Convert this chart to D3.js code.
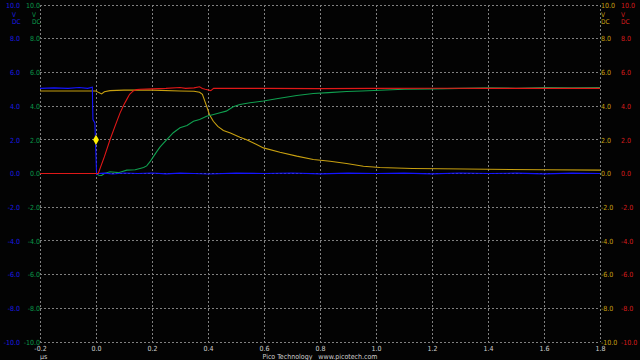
<!DOCTYPE html>
<html><head><meta charset="utf-8">
<script src="https://cdn.jsdelivr.net/npm/d3@7"></script>
<style>
html,body{margin:0;padding:0;background:#000;}
svg{display:block;}
text{font-family:"DejaVu Sans Condensed","DejaVu Sans",sans-serif;font-size:7px;}
</style></head>
<body>
<script>
// ---- data ----
const xTicks = [-0.2, 0.0, 0.2, 0.4, 0.6, 0.8, 1.0, 1.2, 1.4, 1.6, 1.8];
const yTicks = [-10, -8, -6, -4, -2, 0, 2, 4, 6, 8, 10];

const blueT = [-0.2, -0.15, -0.1, -0.06, -0.03, -0.013, -0.012, -0.011, -0.004, 0.0, 0.002, 0.006, 0.03, 0.06, 0.1, 0.15, 0.2, 0.25, 0.3, 0.35, 0.4, 0.5, 0.6, 0.7, 0.8, 0.9, 1.0, 1.1, 1.2, 1.3, 1.4, 1.5, 1.6, 1.7, 1.8];
const blueV = [5.05, 5.08, 5.05, 5.1, 5.05, 5.12, 4.0, 3.2, 3.0, 1.0, -0.05, 0.0, 0.02, -0.03, 0.03, 0.0, 0.03, -0.02, 0.02, 0.0, -0.03, 0.02, 0.0, 0.03, -0.02, 0.02, 0.0, 0.02, -0.02, 0.03, 0.0, 0.02, -0.02, 0.02, 0.0];

const redT = [-0.2, 0.0, 0.008, 0.03, 0.05, 0.07, 0.086, 0.1, 0.11, 0.12, 0.133, 0.145, 0.157, 0.2, 0.25, 0.3, 0.32, 0.35, 0.37, 0.38, 0.39, 0.41, 0.42, 0.5, 0.6, 0.8, 1.0, 1.2, 1.4, 1.6, 1.8];
const redV = [0, 0, 0, 1.0, 2.0, 2.9, 3.6, 4.1, 4.4, 4.7, 4.9, 4.98, 5.0, 5.02, 5.05, 5.1, 5.05, 5.08, 5.15, 5.05, 5.0, 4.92, 5.05, 5.05, 5.05, 5.04, 5.05, 5.06, 5.05, 5.05, 5.05];

const greenT = [-0.2, -0.1, 0.0, 0.01, 0.02, 0.03, 0.05, 0.08, 0.11, 0.14, 0.157, 0.17, 0.181, 0.193, 0.205, 0.217, 0.229, 0.252, 0.276, 0.3, 0.325, 0.348, 0.37, 0.395, 0.42, 0.443, 0.465, 0.49, 0.514, 0.55, 0.598, 0.65, 0.717, 0.776, 0.83, 0.895, 0.95, 1.014, 1.1, 1.2, 1.3, 1.4, 1.5, 1.6, 1.7, 1.8];
const greenV = [0.0, 0.0, 0.0, -0.1, -0.12, 0.0, 0.1, 0.05, 0.2, 0.22, 0.3, 0.35, 0.45, 0.7, 1.0, 1.3, 1.58, 2.0, 2.42, 2.71, 2.85, 3.1, 3.2, 3.4, 3.5, 3.6, 3.7, 3.96, 4.1, 4.2, 4.3, 4.45, 4.63, 4.75, 4.8, 4.87, 4.9, 4.94, 5.0, 5.02, 5.05, 5.08, 5.06, 5.1, 5.08, 5.1];

const yellowT = [-0.2, -0.1, 0.0, 0.01, 0.02, 0.03, 0.05, 0.1, 0.2, 0.3, 0.35, 0.37, 0.38, 0.395, 0.405, 0.419, 0.435, 0.455, 0.48, 0.514, 0.538, 0.57, 0.598, 0.657, 0.717, 0.776, 0.836, 0.895, 0.955, 1.014, 1.13, 1.23, 1.4, 1.6, 1.8];
const yellowV = [4.9, 4.9, 4.9, 4.8, 4.72, 4.85, 4.92, 4.95, 4.95, 4.9, 4.88, 4.82, 4.7, 4.0, 3.5, 3.1, 2.8, 2.55, 2.4, 2.15, 2.0, 1.75, 1.52, 1.26, 1.03, 0.83, 0.73, 0.59, 0.43, 0.36, 0.3, 0.28, 0.25, 0.22, 0.2];

const marker = {t: 0.0, v: 2.0};

// ---- chart ----
const W = 640, H = 360;
const FONT = '"DejaVu Sans Condensed","DejaVu Sans",sans-serif';
const svg = d3.select("body").append("svg").attr("width", W).attr("height", H);
svg.append("rect").attr("width", W).attr("height", H).attr("fill", "#030303");

const x = d3.scaleLinear().domain([-0.2, 1.8]).range([40, 600]);
const y = d3.scaleLinear().domain([-10, 10]).range([342, 5]);
const fmt = d => d.toFixed(1);

// grid
const grid = svg.append("g");
grid.selectAll("line.v").data(xTicks).join("line")
  .attr("x1", d => x(d)).attr("x2", d => x(d)).attr("y1", y(10)).attr("y2", y(-10))
  .attr("stroke", "#808080").attr("stroke-width", 1).attr("stroke-dasharray", "2,2")
  .attr("shape-rendering", "crispEdges");
grid.selectAll("line.h").data(yTicks).join("line")
  .attr("x1", x(-0.2)).attr("x2", x(1.8)).attr("y1", d => y(d)).attr("y2", d => y(d))
  .attr("stroke", "#808080").attr("stroke-width", 1).attr("stroke-dasharray", "2,2")
  .attr("shape-rendering", "crispEdges");

// y label columns
function yCol(axisFn, xpos, color, unitX) {
  const g = svg.append("g").attr("transform", `translate(${xpos},0)`)
    .call(axisFn(y).tickValues(yTicks).tickFormat(fmt).tickSize(0).tickPadding(0));
  g.select(".domain").remove();
  g.selectAll("text").attr("fill", color).style("font-size", "7px").style("font-family", FONT);
  svg.append("text").attr("x", unitX).attr("y", 16.5).attr("fill", color).style("font-size", "6.5px").text("V");
  svg.append("text").attr("x", unitX).attr("y", 24).attr("fill", color).style("font-size", "6.5px").text("DC");
}
yCol(d3.axisLeft, 20, "#1a1ae6", 12);
yCol(d3.axisLeft, 40, "#0a9a4a", 32);
yCol(d3.axisRight, 601, "#c8a010", 601);
yCol(d3.axisRight, 621, "#d81c1c", 621);

// x labels
const xa = svg.append("g").attr("transform", `translate(0,${y(-10) + 4})`)
  .call(d3.axisBottom(x).tickValues(xTicks).tickFormat(fmt).tickSize(0).tickPadding(0));
xa.select(".domain").remove();
xa.selectAll("text").attr("fill", "#d0d0d0").style("font-size", "7px").style("font-family", FONT);
svg.append("text").attr("x", 40).attr("y", 359).attr("fill", "#d0d0d0").text("μs");
svg.append("text").attr("x", 320).attr("y", 359).attr("text-anchor", "middle")
  .attr("fill", "#d0d0d0").attr("xml:space", "preserve").text("Pico Technology   www.picotech.com");

// traces
const line = d3.line().x(d => x(d[0])).y(d => y(d[1]));
function trace(T, V, color) {
  svg.append("path").datum(T.map((t, i) => [t, V[i]]))
    .attr("d", line).attr("fill", "none").attr("stroke", color).attr("stroke-width", 1.1);
}
trace(yellowT, yellowV, "#c8a010");
trace(greenT, greenV, "#10a050");
trace(blueT, blueV, "#1414ff");
trace(redT, redV, "#e01818");

// marker
svg.append("path").attr("d", d3.symbol().type(d3.symbolDiamond).size(30)())
  .attr("transform", `translate(${x(marker.t)},${y(marker.v)})`).attr("fill", "#ffee00");
</script>
</body></html>
